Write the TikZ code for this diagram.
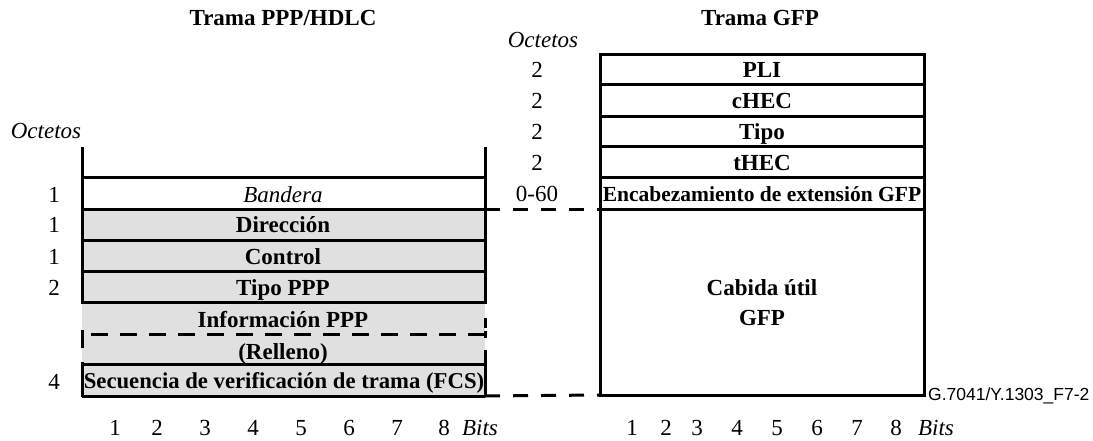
\documentclass[tikz,border=0pt]{standalone}
\usepackage{fontspec}
\setmainfont{Liberation Serif}
\newfontfamily\codefont{Liberation Sans}

\begin{document}
\begin{tikzpicture}[
            x = 1pt, y = -1pt,
            every node/.style={font=\fontsize{23}{25}\selectfont, text height=16pt, text depth=0pt, inner sep=0pt},
            line/.style={line width = 3pt},
            dashline/.style={line width = 3pt, dash pattern=on 15pt off 13pt},
            field/.style={font=\fontsize{23}{25}\selectfont\bfseries},
            ]
        \useasboundingbox (0,0) rectangle (1093,441);
        % titulos
        \node (tppp) at (283,18) {\bfseries Trama PPP/HDLC};
        \node (tgfp) at (760,18) {\bfseries Trama GFP};
        % trama PPP/HDLC
        \fill[black!12] (82,209) rectangle (485,396);
        \foreach \y in {178,209,240,271,302,364,396}
            \draw[line] (82,\y) -- (485,\y);
        \draw[line] (82,147) -- (82,304) (485,147) -- (485,304) (82,362) -- (82,397) (485,350) -- (485,397);
        \draw[line] (82,330) -- (82,348) (485,318) -- (485,328) (485,331) -- (485,338);
        \draw[line, dash pattern=on 17pt off 12pt] (485,334) -- (84,334);
        \node (bandera) at (283,194) {\itshape Bandera};
        \node[field] (dir) at (283,225) {Dirección};
        \node[field] (ctrl) at (283,256) {Control};
        \node[field] (tppp2) at (283,287) {Tipo PPP};
        \node[field] (info) at (283,319) {Información PPP};
        \node[field] (relleno) at (283,351) {(Relleno)};
        \node[field, font=\fontsize{22.7}{25}\selectfont\bfseries] (fcs) at (284,380) {Secuencia de verificación de trama (FCS)};
        \coordinate (hdlcA) at (485,209);
        \coordinate (hdlcB) at (485,396);
        % octetos PPP/HDLC
        \node (oct1) at (46,131) {\itshape Octetos};
        \foreach \n/\y in {1/194,1/225,1/256,2/287,4/381}
            \node (o\y) at (54,\y) {\n};
        % trama GFP
        \draw[line] (600,55) rectangle (924,395);
        \foreach \y in {85,117,147,178,209}
            \draw[line] (600,\y) -- (924,\y);
        \node[field] (pli) at (762,70) {PLI};
        \node[field] (chec) at (762,101) {cHEC};
        \node[field] (tipo) at (762,132) {Tipo};
        \node[field] (thec) at (762,163) {tHEC};
        \node[field, font=\fontsize{21.5}{23}\selectfont\bfseries] (ext) at (762,193) {Encabezamiento de extensión GFP};
        \node[field, font=\fontsize{23}{30}\selectfont\bfseries, align=center, text height=, text depth=] (cabida) at (762,303) {Cabida útil\\GFP};
        \coordinate (gfpA) at (600,209);
        \coordinate (gfpB) at (600,395);
        % octetos GFP
        \node (oct2) at (543,40) {\itshape Octetos};
        \foreach \n/\y in {2/70,2/101,2/132,2/163,0-60/193}
            \node (g\y) at (537,\y) {\n};
        % union de las tramas
        \draw[dashline] (hdlcA) -- (gfpA);
        \draw[dashline] (hdlcB) -- (gfpB);
        % bits
        \foreach \n/\x in {1/115,2/157,3/205,4/253,5/301,6/349,7/397,8/444}
            \node (lb\n) at (\x,427) {\n};
        \node (lbits) at (480,427) {\itshape Bits};
        \foreach \n/\x in {1/632,2/666,3/697,4/737,5/777,6/817,7/857,8/896}
            \node (rb\n) at (\x,427) {\n};
        \node (rbits) at (936,427) {\itshape Bits};
        \node[anchor=west, font=\codefont\fontsize{17.5}{19}\selectfont, text height=12.5pt] (ref) at (928,394) {G.7041/Y.1303\_F7-2};
    \end{tikzpicture}
\end{document}
